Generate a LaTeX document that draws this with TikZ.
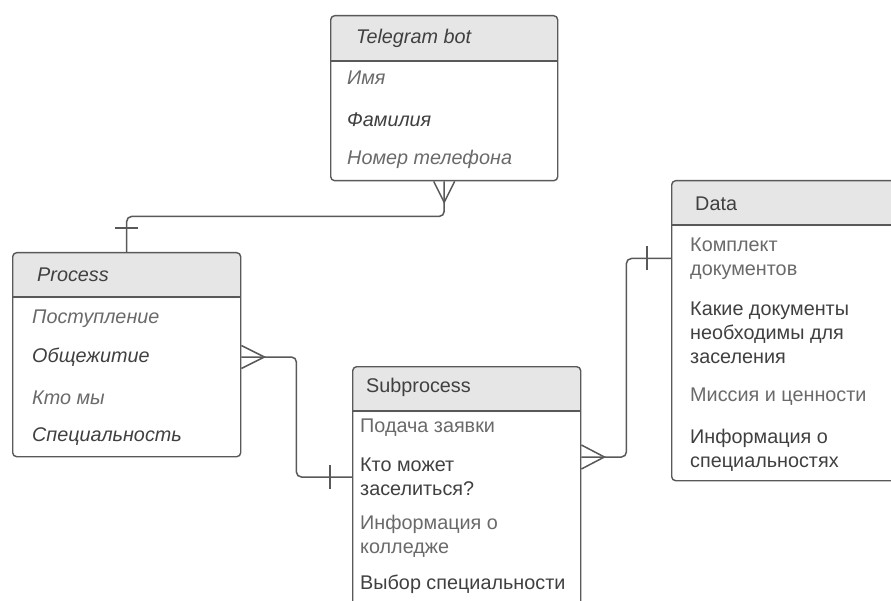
\documentclass[tikz,border=0pt]{standalone}
\usepackage{fontspec}
\setmainfont{Liberation Sans}
\definecolor{ramka}{HTML}{595959}
\definecolor{shapka}{HTML}{E6E6E6}
\definecolor{tyomny}{HTML}{404040}
\definecolor{svetly}{HTML}{6A6A6A}
\tikzset{
  tabl/.style={draw=ramka, line width=1.4pt, rounded corners=4pt, fill=white,
    inner sep=0pt, anchor=north west,
    path picture={\fill[shapka] (path picture bounding box.north west)
      rectangle ([yshift=-45.5pt]path picture bounding box.north east);}},
  pole/.style={anchor=west, inner sep=0pt, align=left, text=svetly,
    font=\fontsize{19.8}{24}\selectfont},
  kursiv/.style={font=\fontsize{19.8}{24}\selectfont\itshape},
  zag/.style={pole, text=tyomny},
  svyaz/.style={draw=ramka, line width=1.5pt}
}
\begin{document}
\begin{tikzpicture}[x=1pt, y=-1pt]
    \clip (0,0) rectangle (891,601);
    \fill[white] (0,0) rectangle (891,601);

    % Таблица Telegram bot
    \node[tabl, minimum width=227pt, minimum height=165pt] (bot) at (330,15) {};
    \draw[svyaz] ([yshift=-46pt]bot.north west) -- ([yshift=-46pt]bot.north east);
    \node[zag, kursiv] (b-zag) at (356,38) {Telegram bot};
    \node[pole, kursiv] (b-imya) at (347,78) {Имя};
    \node[pole, kursiv, text=tyomny] (b-fam) at (347,120) {Фамилия};
    \node[pole, kursiv] (b-tel) at (347,159) {Номер телефона};

    % Таблица Process
    \node[tabl, minimum width=228pt, minimum height=204pt] (proc) at (12,252) {};
    \draw[svyaz] ([yshift=-45pt]proc.north west) -- ([yshift=-45pt]proc.north east);
    \node[zag, kursiv] (p-zag) at (37,275) {Process};
    \node[pole, kursiv] (p-post) at (32,319) {Поступление};
    \node[pole, kursiv, text=tyomny] (p-obsh) at (32,357) {Общежитие};
    \node[pole, kursiv] (p-kto) at (32,398) {Кто мы};
    \node[pole, kursiv, text=tyomny] (p-spec) at (32,437) {Специальность};

    % Таблица Subprocess
    \node[tabl, minimum width=228pt, minimum height=260pt] (podproc) at (352,366) {};
    \draw[svyaz] ([yshift=-45pt]podproc.north west) -- ([yshift=-45pt]podproc.north east);
    \node[zag] (s-zag) at (366,387) {Subprocess};
    \node[pole] (s-podacha) at (360,428) {Подача заявки};
    \node[pole, text=tyomny] (s-kto) at (360,477) {Кто может\\заселиться?};
    \node[pole] (s-info) at (360,536.5) {Информация о\\колледже};
    \node[pole, text=tyomny] (s-vybor) at (360,584) {Выбор специальности};

    % Таблица Data
    \node[tabl, minimum width=232pt, minimum height=300pt] (dannye) at (671,180) {};
    \draw[svyaz] ([yshift=-45pt]dannye.north west) -- ([yshift=-45pt]dannye.north east);
    \node[zag] (d-zag) at (695,204) {Data};
    \node[pole] (d-kompl) at (690,258.5) {Комплект\\документов};
    \node[pole, text=tyomny] (d-kakie) at (690,333) {Какие документы\\необходимы для\\заселения};
    \node[pole] (d-missiya) at (690,397) {Миссия и ценности};
    \node[pole, text=tyomny] (d-info) at (690,450) {Информация о\\специальностях};

    % Связь bot -- Process
    \draw[svyaz, rounded corners=5pt] (bot.south) -- ++(0,35) -| (proc.north);
    \draw[svyaz] ([xshift=-10.5pt]bot.south) -- ++(10.5,21) -- ++(10.5,-21);
    \draw[svyaz] ([shift={(-11.5pt,24pt)}]proc.north) -- ++(23,0);

    % Связь Process -- Subprocess
    \coordinate (k1) at (proc.east |- p-obsh);
    \coordinate (k2) at (podproc.west |- s-kto);
    \draw[svyaz, rounded corners=5pt] (k1) -- ++(55,0) |- (k2);
    \draw[svyaz] ([yshift=11.5pt]k1) -- ++(23,11.5) -- ++(-23,11.5);
    \draw[svyaz] ([shift={(-22pt,12pt)}]k2) -- ++(0,24);

    % Связь Subprocess -- Data
    \coordinate (k3) at ([yshift=-91pt]podproc.north east);
    \coordinate (k4) at (dannye.west |- d-kompl);
    \draw[svyaz, rounded corners=5pt] (k3) -- ++(45,0) |- (k4);
    \draw[svyaz] ([yshift=12pt]k3) -- ++(23,12) -- ++(-23,12);
    \draw[svyaz] ([shift={(-24pt,12pt)}]k4) -- ++(0,24);

\end{tikzpicture}
\end{document}
